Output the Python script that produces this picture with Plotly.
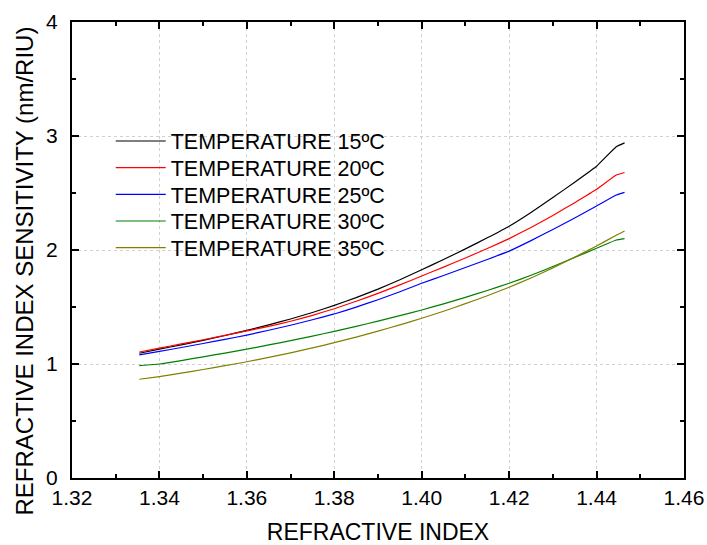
import plotly.graph_objects as go

# Refractive index of the analyte
refractive_index = [1.3354, 1.34, 1.345, 1.35, 1.355, 1.36, 1.365, 1.37, 1.375, 1.38,
                    1.385, 1.39, 1.395, 1.40, 1.405, 1.41, 1.415, 1.42, 1.425, 1.43,
                    1.435, 1.44, 1.4445, 1.4464]

# Sensitivity (nm/RIU) for each temperature
sens_15 = [1.094, 1.13, 1.168, 1.208, 1.25, 1.295, 1.343, 1.395, 1.452, 1.514,
           1.582, 1.657, 1.739, 1.827, 1.917, 2.01, 2.107, 2.209, 2.33, 2.46,
           2.595, 2.735, 2.906, 2.94]
sens_20 = [1.105, 1.14, 1.176, 1.213, 1.251, 1.29, 1.33, 1.375, 1.427, 1.485,
           1.55, 1.62, 1.694, 1.772, 1.85, 1.93, 2.013, 2.10, 2.198, 2.303,
           2.415, 2.532, 2.658, 2.68]
sens_25 = [1.08, 1.11, 1.145, 1.18, 1.216, 1.254, 1.296, 1.34, 1.388, 1.439,
           1.499, 1.564, 1.634, 1.708, 1.776, 1.846, 1.917, 1.99, 2.082, 2.18,
           2.281, 2.386, 2.482, 2.506]
sens_30 = [0.985, 1.0, 1.03, 1.063, 1.096, 1.13, 1.167, 1.205, 1.245, 1.286,
           1.33, 1.376, 1.424, 1.474, 1.528, 1.585, 1.645, 1.708, 1.778, 1.855,
           1.935, 2.015, 2.088, 2.10]
sens_35 = [0.866, 0.89, 0.92, 0.952, 0.985, 1.02, 1.058, 1.098, 1.141, 1.187,
           1.236, 1.288, 1.343, 1.401, 1.463, 1.529, 1.599, 1.673, 1.755, 1.843,
           1.937, 2.035, 2.13, 2.167]

series_names = ["TEMPERATURE 15ºC", "TEMPERATURE 20ºC", "TEMPERATURE 25ºC",
                "TEMPERATURE 30ºC", "TEMPERATURE 35ºC"]
series_values = [sens_15, sens_20, sens_25, sens_30, sens_35]
series_colors = ["#000000", "#ff0000", "#0000ff", "#008000", "#808000"]

x_ticks = [1.32, 1.34, 1.36, 1.38, 1.40, 1.42, 1.44, 1.46]
x_tick_labels = ["1.32", "1.34", "1.36", "1.38", "1.40", "1.42", "1.44", "1.46"]
y_ticks = [0, 1, 2, 3, 4]

x_title = "REFRACTIVE INDEX"
y_title = "REFRACTIVE INDEX SENSITIVITY (nm/RIU)"

FONT = "Liberation Sans, Arial, sans-serif"

# One single-entry legend per series so the row spacing can be set freely
legend_ids = ["legend", "legend2", "legend3", "legend4", "legend5"]
legend_rows_y = [0.739, 0.6805, 0.622, 0.5635, 0.505]

fig = go.Figure()
for name, vals, col, lid in zip(series_names, series_values, series_colors, legend_ids):
    fig.add_trace(go.Scatter(
        x=refractive_index, y=vals, mode="lines", name=name, legend=lid,
        line=dict(color=col, width=1.2, shape="spline", smoothing=0.3),
    ))

axis_common = dict(
    showline=True, linecolor="black", linewidth=2, mirror="ticks",
    ticks="inside", ticklen=7, tickwidth=2, tickcolor="black",
    showgrid=True, gridcolor="#d0d0d0", griddash="dot", gridwidth=1,
    zeroline=False, automargin=False,
    tickfont=dict(family=FONT, size=21, color="black"),
)

fig.update_xaxes(
    range=[1.32, 1.46], tickvals=x_ticks, ticktext=x_tick_labels,
    minor=dict(ticks="inside", ticklen=4, tickwidth=1.5, tickcolor="black", dtick=0.01, showgrid=False),
    title=dict(text=x_title, font=dict(family=FONT, size=23, color="black"), standoff=26),
    ticklabelstandoff=0,
    **axis_common,
)
fig.update_yaxes(
    range=[0, 4], tickvals=y_ticks,
    minor=dict(ticks="inside", ticklen=4, tickwidth=1.5, tickcolor="black", dtick=0.5, showgrid=False),
    ticklabelstandoff=8,
    **axis_common,
)

# Vertical axis title placed as a rotated text
fig.add_annotation(
    text=y_title, textangle=-90, showarrow=False,
    xref="paper", yref="paper", x=-0.0776, y=0.4539,
    xanchor="center", yanchor="middle",
    font=dict(family=FONT, size=24, color="black"),
)

legend_style = dict(
    x=0.0633, xanchor="left", yanchor="middle",
    bgcolor="rgba(0,0,0,0)", borderwidth=0,
    font=dict(family=FONT, size=21.5, color="black"),
    itemwidth=50,
)
legends = {lid: dict(y=ly, **legend_style) for lid, ly in zip(legend_ids, legend_rows_y)}

fig.update_layout(
    width=707, height=545,
    margin=dict(l=72, r=23, t=22, b=67),
    paper_bgcolor="white", plot_bgcolor="white",
    showlegend=True,
    **legends,
)

fig.write_html("out.html")
